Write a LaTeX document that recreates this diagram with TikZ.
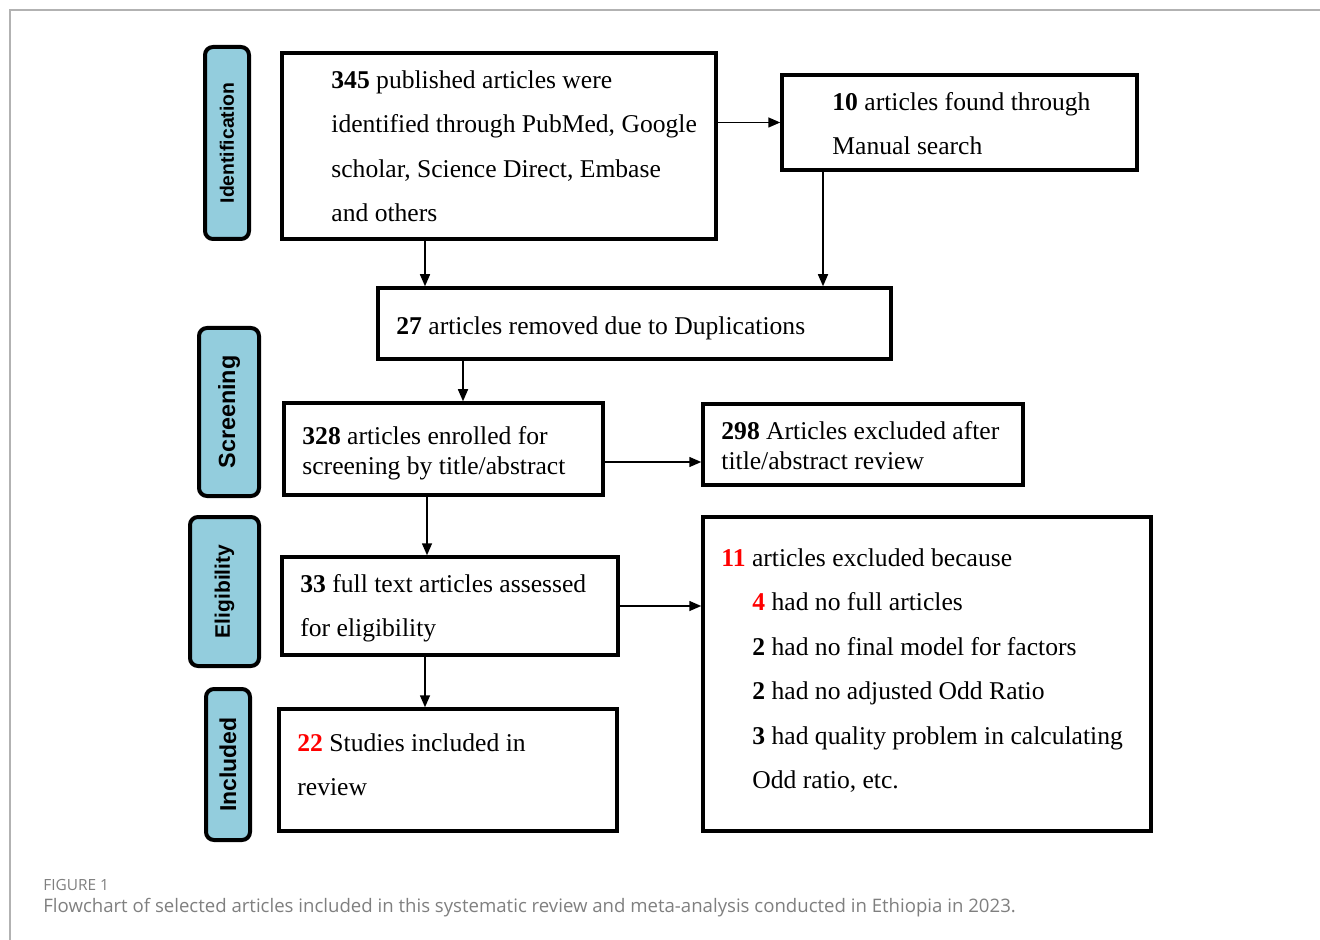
\documentclass[tikz,border=0pt]{standalone}
\usepackage{fontspec}
\setmainfont{Liberation Serif}
\setsansfont{Liberation Sans}
\newfontfamily\capfont{Open Sans}
\usetikzlibrary{arrows.meta}
\definecolor{sidefill}{HTML}{93CDDD}
\definecolor{capgray}{HTML}{7F7F7F}
\newcommand{\bnum}[1]{\textbf{#1}}
\newcommand{\rnum}[1]{\textcolor{red}{\textbf{#1}}}

\begin{document}
\begin{tikzpicture}[x=0.5pt,y=-0.5pt,
	box/.style={draw, line width=1.75pt, inner sep=0pt},
	boxtext/.style={anchor=north west, inner sep=0pt, align=left, font=\fontsize{12.8}{22.25}\selectfont},
	stagebox/.style={draw, line width=2pt, rounded corners=4pt, fill=sidefill, rotate=90, inner sep=0pt},
	arr/.style={-{Triangle[length=6pt,width=5pt]}, line width=0.75pt}]
		\useasboundingbox (0,0) rectangle (1320,940);
		\draw[gray!60, line width=0.6pt] (10,940) -- (10,10) -- (1320,10);

		\node[stagebox, minimum width=96pt, minimum height=22pt, font=\sffamily\bfseries\fontsize{9.7}{12}\selectfont] (identlab) at (227,143) {Identification};
		\node[stagebox, minimum width=84pt, minimum height=30pt, font=\sffamily\bfseries\fontsize{11.7}{14}\selectfont] (screenlab) at (229,412) {Screening};
		\node[stagebox, minimum width=74.5pt, minimum height=34.5pt, font=\sffamily\bfseries\fontsize{10.5}{13}\selectfont] (eliglab) at (224.5,591.5) {Eligibility};
		\node[stagebox, minimum width=75.5pt, minimum height=22pt, font=\sffamily\bfseries\fontsize{11.5}{14}\selectfont] (incllab) at (228,764.5) {Included};

		\node[box, minimum width=217pt, minimum height=93pt] (search) at (499,146) {};
		\node[boxtext] (searchtxt) at (331,70) {\bnum{345} published articles were\\identified through PubMed, Google\\scholar, Science Direct, Embase\\and others};

		\node[box, minimum width=177.5pt, minimum height=47.5pt] (manual) at (959.5,122.5) {};
		\node[boxtext] (manualtxt) at (832,92) {\bnum{10} articles found through\\Manual search};

		\node[box, minimum width=256.5pt, minimum height=35.5pt] (dupl) at (634.5,323.5) {};
		\node[boxtext] (dupltxt) at (396,316) {\bnum{27} articles removed due to Duplications};

		\node[box, minimum width=159.5pt, minimum height=46pt] (screen) at (443.5,449) {};
		\node[boxtext, font=\fontsize{12.8}{15}\selectfont] (screentxt) at (302,426) {\bnum{328} articles enrolled for\\screening by title/abstract};

		\node[box, minimum width=160pt, minimum height=40.5pt] (excl) at (863,444.5) {};
		\node[boxtext, font=\fontsize{12.8}{15}\selectfont] (excltxt) at (721,421) {\bnum{298} Articles excluded after\\title/abstract review};

		\node[box, minimum width=168pt, minimum height=49pt] (full) at (450,606) {};
		\node[boxtext] (fulltxt) at (300,574) {\bnum{33} full text articles assessed\\for eligibility};

		\node[box, minimum width=169pt, minimum height=61pt] (incl) at (448,770) {};
		\node[boxtext] (incltxt) at (297,733) {\rnum{22} Studies included in\\review};

		\node[box, minimum width=224pt, minimum height=157pt] (reasons) at (927,674) {};
		\node[boxtext] (reasonstxt) at (721,548) {\rnum{11} articles excluded because\\
			\hspace*{15.5pt}\rnum{4} had no full articles\\
			\hspace*{15.5pt}\bnum{2} had no final model for factors\\
			\hspace*{15.5pt}\bnum{2} had no adjusted Odd Ratio\\
			\hspace*{15.5pt}\bnum{3} had quality problem in calculating\\
			\hspace*{15.5pt}Odd ratio, etc.};

		\coordinate (c1) at (425,0);
		\coordinate (c2) at (823,0);
		\coordinate (c3) at (463,0);
		\coordinate (c4) at (427,0);
		\coordinate (r1) at (0,462);
		\draw[arr] (search.south -| c1) -- (dupl.north -| c1);
		\draw[arr] (search.east |- manual.west) -- (manual.west);
		\draw[arr] (manual.south -| c2) -- (dupl.north -| c2);
		\draw[arr] (dupl.south -| c3) -- (screen.north -| c3);
		\draw[arr] (screen.east |- r1) -- (excl.west |- r1);
		\draw[arr] (screen.south -| c4) -- (full.north -| c4);
		\draw[arr] (full.east) -- (reasons.west |- full.east);
		\draw[arr] (full.south -| c1) -- (incl.north -| c1);

		\node[anchor=west, inner sep=0pt, text=capgray, font=\capfont\fontsize{7.7}{9}\selectfont] (fignum) at (43,885) {FIGURE 1};
		\node[anchor=west, inner sep=0pt, text=capgray, font=\capfont\fontsize{9.3}{11}\selectfont] (caption) at (43,908) {Flowchart of selected articles included in this systematic review and meta-analysis conducted in Ethiopia in 2023.};
	\end{tikzpicture}
\end{document}
